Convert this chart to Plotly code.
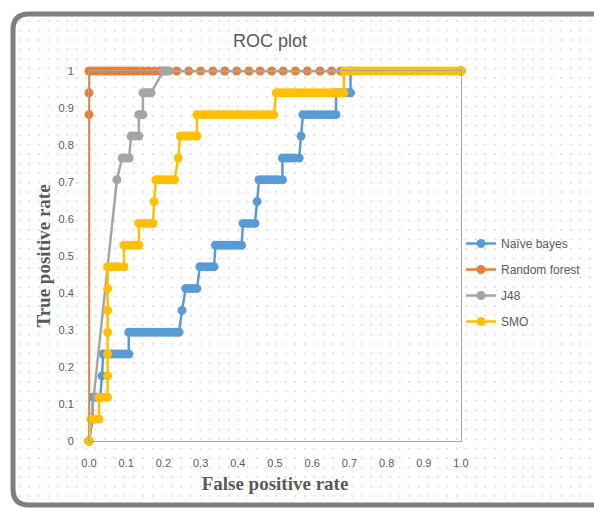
import plotly.graph_objects as go

# ---------------- data ----------------
# Each series: TPR levels (steps of 1/17) and the FPR values of the points
# that sit on each level.
nb_tpr_levels = [0, 0.059, 0.118, 0.176, 0.235, 0.294, 0.353, 0.412, 0.471,
                 0.529, 0.588, 0.647, 0.706, 0.765, 0.824, 0.882, 0.941, 1.0]
nb_fpr_points = [
    [0],
    [0.01],
    [0.01, 0.02, 0.03],
    [0.035],
    [0.038, 0.048, 0.058, 0.068, 0.078, 0.088, 0.098, 0.107],
    [0.107, 0.117, 0.127, 0.137, 0.147, 0.157, 0.167, 0.177, 0.187, 0.197,
     0.207, 0.217, 0.227, 0.235, 0.242],
    [0.25],
    [0.26, 0.27, 0.28, 0.29],
    [0.298, 0.308, 0.318, 0.328, 0.336],
    [0.34, 0.35, 0.36, 0.37, 0.38, 0.39, 0.40, 0.41],
    [0.414, 0.424, 0.434, 0.446],
    [0.452],
    [0.457, 0.467, 0.477, 0.487, 0.497, 0.507, 0.52],
    [0.52, 0.53, 0.54, 0.55, 0.565],
    [0.57],
    [0.575, 0.585, 0.595, 0.605, 0.615, 0.625, 0.635, 0.645, 0.655, 0.664],
    [0.664, 0.674, 0.684, 0.694, 0.703],
    [0.703, 1.0],
]

rf_tpr_levels = [0, 0.882, 0.941, 1.0]
rf_fpr_points = [
    [0],
    [0],
    [0],
    [0, 0.01, 0.02, 0.03, 0.04, 0.05, 0.06, 0.07, 0.08, 0.09, 0.10, 0.11, 0.12,
     0.13, 0.145, 0.16, 0.175, 0.19, 0.2, 0.236, 0.268, 0.3, 0.333, 0.365,
     0.397, 0.43, 0.46, 0.491, 0.522, 0.555, 0.587, 0.621, 0.652, 0.677, 1.0],
]

j48_tpr_levels = [0, 0.706, 0.765, 0.824, 0.882, 0.941, 1.0]
j48_fpr_points = [
    [0],
    [0.075],
    [0.089, 0.098, 0.108],
    [0.113, 0.123, 0.134],
    [0.134, 0.14, 0.145],
    [0.145, 0.153, 0.16, 0.167],
    [0.2, 0.208, 0.215, 1.0],
]

smo_tpr_levels = [0, 0.059, 0.118, 0.176, 0.235, 0.294, 0.353, 0.412, 0.471,
                  0.529, 0.588, 0.647, 0.706, 0.765, 0.824, 0.882, 0.941, 1.0]
smo_fpr_points = [
    [0],
    [0.005, 0.015, 0.027],
    [0.027, 0.038, 0.05],
    [0.05],
    [0.05],
    [0.05],
    [0.05],
    [0.05],
    [0.05, 0.06, 0.07, 0.08, 0.094],
    [0.094, 0.104, 0.114, 0.124, 0.134],
    [0.134, 0.144, 0.154, 0.164, 0.172],
    [0.175],
    [0.18, 0.19, 0.2, 0.21, 0.22, 0.23],
    [0.24],
    [0.245, 0.255, 0.265, 0.275, 0.285, 0.29],
    [0.29, 0.30, 0.31, 0.32, 0.33, 0.34, 0.35, 0.36, 0.37, 0.38, 0.39, 0.40,
     0.41, 0.42, 0.43, 0.44, 0.45, 0.46, 0.47, 0.48, 0.49, 0.497],
    [0.503, 0.513, 0.523, 0.533, 0.543, 0.553, 0.563, 0.573, 0.583, 0.593,
     0.603, 0.613, 0.623, 0.633, 0.643, 0.653, 0.663, 0.673, 0.685],
    [0.685, 0.695, 0.705, 0.715, 0.725, 0.735, 0.745, 0.755, 0.765, 0.775,
     0.785, 0.795, 0.805, 0.815, 0.825, 0.835, 0.845, 0.855, 0.865, 0.875,
     0.885, 0.895, 0.905, 0.915, 0.925, 0.935, 0.945, 0.955, 0.965, 0.975,
     0.985, 0.995, 1.0],
]

series_names = ["Naïve bayes", "Random forest", "J48", "SMO"]
series_colors = ["#5B9BD5", "#ED7D31", "#A5A5A5", "#FFC000"]


def flatten(levels, fpr_groups):
    xs, ys = [], []
    for lvl, grp in zip(levels, fpr_groups):
        for f in grp:
            xs.append(f)
            ys.append(lvl)
    return xs, ys


# ---------------- figure ----------------
W, H = 594, 508
L, R, T, B = 89, 133, 71, 67
PW, PH = W - L - R, H - T - B


def px_x(px):
    return (px - L) / PW


def px_y(py):
    return (H - B - py) / PH


fig = go.Figure()
data_sets = [(nb_tpr_levels, nb_fpr_points), (rf_tpr_levels, rf_fpr_points),
             (j48_tpr_levels, j48_fpr_points), (smo_tpr_levels, smo_fpr_points)]
for (lv, grp), name, col in zip(data_sets, series_names, series_colors):
    xs, ys = flatten(lv, grp)
    fig.add_trace(go.Scatter(
        x=xs, y=ys, mode="lines+markers", name=name, legendgroup=name,
        line=dict(color=col, width=2.5),
        marker=dict(color=col, size=9, symbol="circle"),
        cliponaxis=False,
    ))

shapes = []
# dotted background pattern inside the chart frame
py = 21.0
while py < 502:
    shapes.append(dict(
        type="line", xref="paper", yref="paper",
        x0=px_x(19), x1=px_x(594), y0=px_y(py), y1=px_y(py),
        line=dict(color="#cfcfcf", width=1.5, dash="1.5px,8px"),
        layer="below",
    ))
    py += 9.5

# rounded outer frame
fx0, fy0, fy1, fx1, rr = 13, 14, 505, 604, 16
path = (f"M {px_x(fx1)},{px_y(fy0)} L {px_x(fx0 + rr)},{px_y(fy0)} "
        f"Q {px_x(fx0)},{px_y(fy0)} {px_x(fx0)},{px_y(fy0 + rr)} "
        f"L {px_x(fx0)},{px_y(fy1 - rr)} "
        f"Q {px_x(fx0)},{px_y(fy1)} {px_x(fx0 + rr)},{px_y(fy1)} "
        f"L {px_x(fx1)},{px_y(fy1)}")
shapes.append(dict(type="path", xref="paper", yref="paper", path=path,
                   line=dict(color="#7f7f7f", width=5)))

tick_font = dict(family="Liberation Sans, Arial, sans-serif", size=11, color="#595959")
title_font = dict(family="Liberation Serif, Times New Roman, serif", size=19,
                  color="#595959", weight="bold")

fig.update_layout(
    width=W, height=H,
    margin=dict(l=L, r=R, t=T, b=B, autoexpand=False),
    paper_bgcolor="white", plot_bgcolor="rgba(0,0,0,0)",
    title=dict(text="ROC plot", x=270 / W, xref="container", xanchor="center",
               y=1 - 41 / H, yref="container", yanchor="middle",
               font=dict(family="Liberation Sans, Arial, sans-serif", size=18,
                         color="#595959")),
    xaxis=dict(range=[0, 1], dtick=0.1, tickformat=".1f", showgrid=False,
               zeroline=False, showline=True, mirror=True, linecolor="#a6a6a6",
               linewidth=1, ticks="", tickfont=tick_font, ticklabelstandoff=12,
               title=dict(text="False positive rate", font=title_font, standoff=8)),
    yaxis=dict(range=[0, 1], dtick=0.1, showgrid=False, zeroline=False,
               showline=True, mirror=True, linecolor="#a6a6a6", linewidth=1,
               ticks="", tickfont=tick_font, ticklabelstandoff=12,
               title=dict(text="True positive rate", font=title_font, standoff=2)),
    legend=dict(x=1.0, xanchor="left", y=px_y(229), yanchor="top",
                bgcolor="rgba(0,0,0,0)", tracegroupgap=7,
                font=dict(family="Liberation Sans, Arial, sans-serif", size=12,
                          color="#595959")),
    shapes=shapes,
)

fig.write_html("out.html", post_script="document.body.style.margin='0';",
               config={"displayModeBar": False})
